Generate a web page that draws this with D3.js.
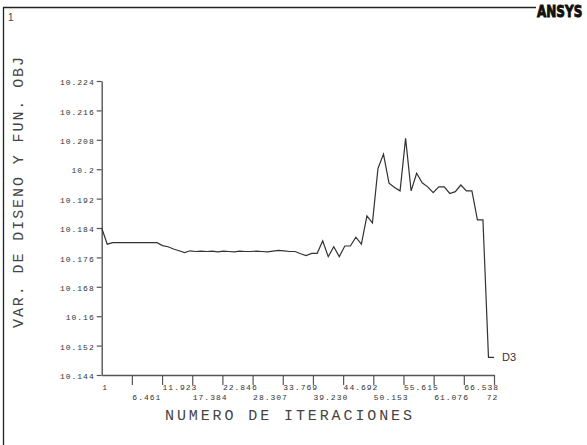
<!DOCTYPE html>
<html>
<head>
<meta charset="utf-8">
<script src="https://cdn.jsdelivr.net/npm/d3@7"></script>
<style>
  body { margin: 0; background: #fff; }
  svg { display: block; }
  .tick text { font-family: "Liberation Mono", monospace; font-size: 8px; letter-spacing: 1px; fill: #333; }
  .title { font-family: "Liberation Mono", monospace; font-size: 15px; fill: #444; }
</style>
</head>
<body>
<div id="chart"></div>
<script>
  const width = 587, height = 445;

  // iteraciones y valor de D3 por iteración
  const iterations = d3.range(1, 73);
  const d3Values = [
    10.1840, 10.1796, 10.1800, 10.1800, 10.1800, 10.1800, 10.1800, 10.1800, 10.1800, 10.1800,
    10.1800, 10.1792, 10.1789, 10.1783, 10.1778, 10.1773, 10.1778, 10.1776, 10.1777, 10.1776,
    10.1777, 10.1775, 10.1777, 10.1776, 10.1775, 10.1777, 10.1776, 10.1776, 10.1777, 10.1776,
    10.1775, 10.1777, 10.1779, 10.1778, 10.1776, 10.1776, 10.1770, 10.1765, 10.1771, 10.1771,
    10.1805, 10.1762, 10.1789, 10.1762, 10.1791, 10.1791, 10.1815, 10.1796, 10.1873, 10.1854,
    10.2002, 10.2041, 10.1962, 10.1950, 10.1941, 10.2084, 10.1941, 10.1989, 10.1963, 10.1952,
    10.1936, 10.1952, 10.1952, 10.1934, 10.1939, 10.1957, 10.1941, 10.1941, 10.1862, 10.1862,
    10.1488, 10.1488
  ];

  const xTickValues = [1, 6.461, 11.923, 17.384, 22.846, 28.307, 33.769, 39.230, 44.692, 50.153, 55.615, 61.076, 66.538, 72];
  const xTickLabels = ["1", "6.461", "11.923", "17.384", "22.846", "28.307", "33.769", "39.230", "44.692", "50.153", "55.615", "61.076", "66.538", "72"];
  const yTickValues = [10.144, 10.152, 10.16, 10.168, 10.176, 10.184, 10.192, 10.2, 10.208, 10.216, 10.224];
  const yTickLabels = ["10.144", "10.152", "10.16", "10.168", "10.176", "10.184", "10.192", "10.2", "10.208", "10.216", "10.224"];

  const svg = d3.select("#chart").append("svg")
    .attr("width", width)
    .attr("height", height);

  // marco de la ventana
  svg.append("path")
    .attr("d", "M3.5,445 L3.5,7.5 L536,7.5")
    .attr("fill", "none")
    .attr("stroke", "#222")
    .attr("stroke-width", 1.3);

  svg.append("text")
    .attr("x", 8).attr("y", 21)
    .style("font-family", "Liberation Sans, sans-serif")
    .style("font-size", "10px")
    .style("fill", "#444")
    .text("1");

  // logo
  svg.append("text")
    .attr("transform", "translate(537,17) scale(1,1.3)")
    .style("font-family", "DejaVu Sans, sans-serif")
    .style("font-size", "12px")
    .style("font-weight", "bold")
    .style("fill", "#111")
    .style("stroke", "#111")
    .style("stroke-width", 0.7)
    .text("ANSYS");

  const x = d3.scaleLinear().domain([1, 72]).range([101.7, 494]);
  const y = d3.scaleLinear().domain([10.144, 10.224]).range([375, 81]);

  // eje Y
  const yAxis = svg.append("g")
    .attr("transform", "translate(101.7,0)")
    .call(d3.axisLeft(y)
      .tickValues(yTickValues)
      .tickFormat((d, i) => yTickLabels[i])
      .tickSize(5)
      .tickSizeOuter(0)
      .tickPadding(2));
  yAxis.select(".domain").attr("stroke", "#555").attr("stroke-width", 1.4);
  yAxis.selectAll(".tick line").attr("stroke", "#555").attr("stroke-width", 1.2);
  yAxis.selectAll(".tick text").attr("dy", "0.45em");

  // eje X
  const xAxis = svg.append("g")
    .attr("transform", "translate(0,375)")
    .call(d3.axisBottom(x)
      .tickValues(xTickValues)
      .tickFormat((d, i) => xTickLabels[i])
      .tickSize(10)
      .tickSizeOuter(0));
  xAxis.select(".domain").attr("stroke", "#555").attr("stroke-width", 1.4);
  xAxis.selectAll(".tick line")
    .attr("stroke", "#555").attr("stroke-width", 1.2)
    .attr("y2", (d, i) => i === 0 ? 0 : 10);
  xAxis.selectAll(".tick text")
    .attr("text-anchor", (d, i) => i === xTickValues.length - 1 ? "middle" : "start")
    .attr("x", (d, i) => i === xTickValues.length - 1 ? -2 : 0)
    .attr("y", (d, i) => i % 2 === 0 ? 15 : 25)
    .attr("dy", 0);

  // línea D3
  const line = d3.line()
    .x((d, i) => x(iterations[i]))
    .y(d => y(d));

  svg.append("path")
    .datum(d3Values)
    .attr("d", line)
    .attr("fill", "none")
    .attr("stroke", "#333")
    .attr("stroke-width", 1.2);

  svg.append("text")
    .attr("x", x(72) + 8)
    .attr("y", y(d3Values[71]) + 4)
    .style("font-family", "Liberation Sans, sans-serif")
    .style("font-size", "11px")
    .style("fill", "#333")
    .text("D3");

  // títulos
  svg.append("text")
    .attr("class", "title")
    .attr("x", 165).attr("y", 420)
    .attr("textLength", 247)
    .attr("lengthAdjust", "spacing")
    .text("NUMERO DE ITERACIONES");

  svg.append("text")
    .attr("class", "title")
    .attr("transform", "translate(23,328) rotate(-90)")
    .attr("textLength", 271)
    .attr("lengthAdjust", "spacing")
    .text("VAR. DE DISENO Y FUN. OBJ");
</script>
</body>
</html>
